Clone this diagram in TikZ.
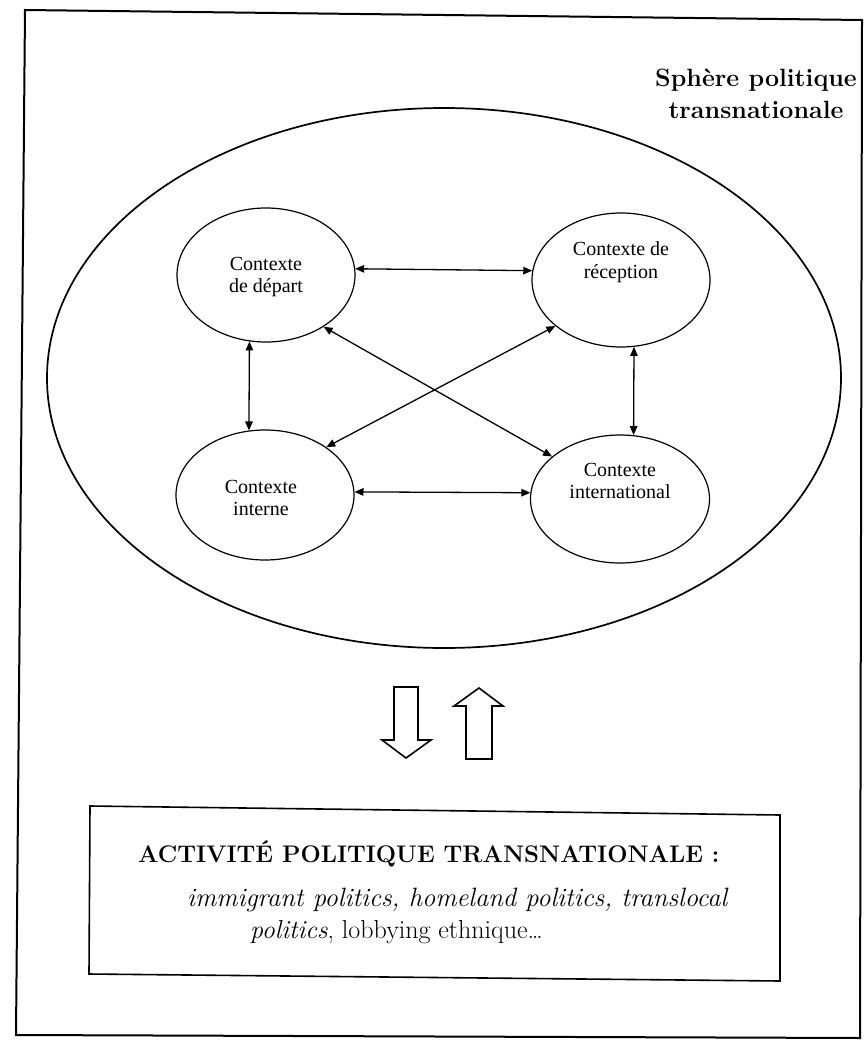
\documentclass[tikz,border=0pt]{standalone}
\usepackage{fontspec}
\newfontfamily\timesf{Liberation Serif}
\usetikzlibrary{shapes.geometric,arrows.meta}
\begin{document}
\begin{tikzpicture}[x=1pt,y=-1pt,
  ctx/.style={ellipse, draw, line width=1.2pt, minimum width=178pt, minimum height=134pt, inner sep=0pt},
  lbl/.style={font=\timesf\fontsize{20}{22.5}\selectfont, align=center, inner sep=0pt},
  link/.style={line width=1.3pt, {Triangle[length=9pt,width=7.5pt]}-{Triangle[length=9pt,width=7.5pt]}},
  hollow/.style={draw, line width=1.6pt, line join=miter, fill=white},
  frame/.style={draw, line width=2pt, line join=miter}]
\useasboundingbox (0,0) rectangle (864,1041);
% outer frame
\draw[frame] (25,10) -- (862,20) -- (860,1038) -- (16,1035) -- cycle;
% title
\node[font=\bfseries\fontsize{25}{30}\selectfont, anchor=base, inner sep=0pt] (sph1) at (756,86) {Sphère politique};
\node[font=\bfseries\fontsize{25}{30}\selectfont, anchor=base, inner sep=0pt] (sph2) at (756,118) {transnationale};
% big ellipse
\node[ellipse, draw, line width=1.7pt, minimum width=794pt, minimum height=540pt, inner sep=0pt] (sphere) at (444,378) {};
% contexts
\node[ctx] (dep) at (266,275) {};
\node[ctx] (rec) at (621,280) {};
\node[ctx, minimum height=130pt] (int) at (265,495) {};
\node[ctx, minimum width=179pt, minimum height=128pt] (intl) at (620,499) {};
\node[lbl] (depL) at (266,277) {Contexte\\de départ};
\node[lbl] (recL) at (621,262) {Contexte de\\réception};
\node[lbl] (intL) at (261,498) {Contexte\\interne};
\node[lbl] (intlL) at (620,481) {Contexte\\international};
% links
\draw[link] (dep.4) -- (rec.174);
\draw[link] (int.2) -- (intl.176);
\draw[link] (dep.256) -- (int.104);
\draw[link] (rec.281) -- (intl.78);
\draw[link] (dep.318) -- (intl.148);
\draw[link] (rec.215) -- (int.38);
% hollow arrows
\draw[hollow] (394,687) -- (418,687) -- (418,740) -- (431,740) -- (406,758) -- (382,740) -- (394,740) -- cycle;
\draw[hollow] (466,759) -- (492,759) -- (492,706) -- (503,706) -- (479,688) -- (454,706) -- (466,706) -- cycle;
% bottom box
\draw[frame, line width=1.6pt] (90,806) -- (780,815) -- (780,981) -- (89,974) -- cycle;
\node[anchor=base west, font=\bfseries\fontsize{24}{30}\selectfont, inner sep=0pt] (act) at (138,862) {ACTIVITÉ POLITIQUE TRANSNATIONALE :};
\node[anchor=base west, font=\itshape\fontsize{26.5}{30}\selectfont, inner sep=0pt] (l2) at (187,906) {immigrant politics, homeland politics, translocal};
\node[anchor=base west, font=\fontsize{26}{30}\selectfont, inner sep=0pt] (l3) at (250,938) {\textit{politics}, lobbying ethnique…};
\end{tikzpicture}
\end{document}
